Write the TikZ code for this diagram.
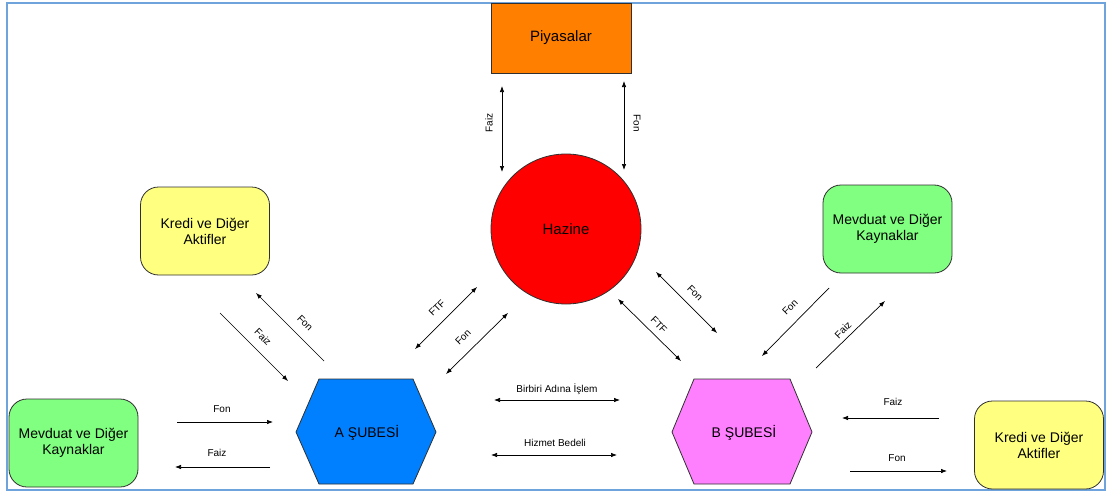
\documentclass[tikz,border=0pt]{standalone}
\usepackage{fontspec}
\setmainfont{Liberation Sans}
\usetikzlibrary{arrows.meta}
\definecolor{framecol}{HTML}{6FA3DC}
\definecolor{piycol}{HTML}{FF8000}
\definecolor{hazcol}{HTML}{FF0000}
\definecolor{krecol}{HTML}{FFFF80}
\definecolor{mevcol}{HTML}{80FF80}
\definecolor{acol}{HTML}{0080FF}
\definecolor{bcol}{HTML}{FF80FF}
\definecolor{edgecol}{HTML}{303030}
\begin{document}
\begin{tikzpicture}[x=1pt,y=-1pt,
  box/.style={draw=edgecol, line width=0.8pt, align=center, font=\fontsize{14}{16}\selectfont},
  rbox/.style={box, rounded corners=18pt, minimum width=129pt, minimum height=88pt},
  hexa/.style={draw=edgecol, line width=0.8pt},
  lbl/.style={font=\fontsize{10}{12}\selectfont, inner sep=1pt},
  arr/.style={line width=0.7pt, -{Latex[length=6pt,width=4.5pt]}},
  darr/.style={line width=0.7pt, {Latex[length=6pt,width=4.5pt]}-{Latex[length=6pt,width=4.5pt]}},
]
\path[use as bounding box] (0,0) rectangle (1113,495);
\draw[framecol, line width=2.5pt] (7,3) rectangle (1105,490);

% main boxes
\node[box, fill=piycol, minimum width=140pt, minimum height=70pt, font=\fontsize{15}{17}\selectfont] (piy) at (561,38) {Piyasalar};
\node[box, circle, fill=hazcol, minimum size=150pt, font=\fontsize{15}{17}\selectfont] (haz) at (566,229) {Hazine};
\node[rbox, fill=krecol] (kreTL) at (205,231) {Kredi ve Diğer\\Aktifler};
\node[rbox, fill=mevcol] (mevTR) at (887.5,229) {Mevduat ve Diğer\\Kaynaklar};
\node[rbox, fill=mevcol] (mevBL) at (73.5,443) {Mevduat ve Diğer\\Kaynaklar};
\node[rbox, fill=krecol] (kreBR) at (1039,445) {Kredi ve Diğer\\Aktifler};

% branches
\draw[hexa, fill=acol] (296,432) -- (319,379) -- (413,379) -- (436,432) -- (413,484) -- (319,484) -- cycle;
\node[font=\fontsize{14}{16}\selectfont] (subA) at (367,433) {A ŞUBESİ};
\draw[hexa, fill=bcol] (672,432) -- (694,379) -- (790,379) -- (812,432) -- (790,484) -- (694,484) -- cycle;
\node[font=\fontsize{14}{16}\selectfont] (subB) at (744,433) {B ŞUBESİ};

% arrow end points
\coordinate (pf1) at (502,86);  \coordinate (pf2) at (502,172);
\coordinate (pn1) at (624,81);  \coordinate (pn2) at (624,170);
\coordinate (kf1) at (324,361); \coordinate (kf2) at (256,293);
\coordinate (kz1) at (220,313); \coordinate (kz2) at (288,381);
\coordinate (at1) at (415,349); \coordinate (at2) at (477,287);
\coordinate (an1) at (446,374); \coordinate (an2) at (508,313);
\coordinate (bt1) at (618,299); \coordinate (bt2) at (681,361);
\coordinate (bn1) at (656,272); \coordinate (bn2) at (717,333);
\coordinate (mf1) at (829,288); \coordinate (mf2) at (762,356);
\coordinate (mz1) at (816,368); \coordinate (mz2) at (885,301);
\coordinate (lf1) at (177,422); \coordinate (lf2) at (273,422);
\coordinate (lz1) at (270,467); \coordinate (lz2) at (175,467);
\coordinate (ci1) at (494,400); \coordinate (ci2) at (620,400);
\coordinate (ch1) at (491,455); \coordinate (ch2) at (617,455);
\coordinate (rz1) at (939,418); \coordinate (rz2) at (842,418);
\coordinate (rf1) at (850,471); \coordinate (rf2) at (947,471);

% flows
\draw[darr] (pf1) -- (pf2);
\draw[darr] (pn1) -- (pn2);
\draw[arr] (kf1) -- (kf2);
\draw[arr] (kz1) -- (kz2);
\draw[darr] (at1) -- (at2);
\draw[darr] (an1) -- (an2);
\draw[darr] (bt1) -- (bt2);
\draw[darr] (bn1) -- (bn2);
\draw[arr] (mf1) -- (mf2);
\draw[arr] (mz1) -- (mz2);
\draw[arr] (lf1) -- (lf2);
\draw[arr] (lz1) -- (lz2);
\draw[darr] (ci1) -- (ci2);
\draw[darr] (ch1) -- (ch2);
\draw[arr] (rz1) -- (rz2);
\draw[arr] (rf1) -- (rf2);

% flow labels
\node[lbl, rotate=90] (tpf) at (489,123) {Faiz};
\node[lbl, rotate=-90] (tpn) at (637,123) {Fon};
\node[lbl, rotate=-45] (tkf) at (305,323) {Fon};
\node[lbl, rotate=-45] (tkz) at (263,337) {Faiz};
\node[lbl, rotate=45] (tat) at (437,308) {FTF};
\node[lbl, rotate=45] (tan) at (463,337) {Fon};
\node[lbl, rotate=-45] (tbt) at (659,325) {FTF};
\node[lbl, rotate=-45] (tbn) at (695,293) {Fon};
\node[lbl, rotate=45] (tmf) at (790,307) {Fon};
\node[lbl, rotate=45] (tmz) at (843,330) {Faiz};
\node[lbl] (tlf) at (222,409) {Fon};
\node[lbl] (tlz) at (217,453) {Faiz};
\node[lbl] (tci) at (557,389) {Birbiri Adına İşlem};
\node[lbl] (tch) at (555,443) {Hizmet Bedeli};
\node[lbl] (trz) at (893,402) {Faiz};
\node[lbl] (trf) at (897,458) {Fon};
\end{tikzpicture}
\end{document}
